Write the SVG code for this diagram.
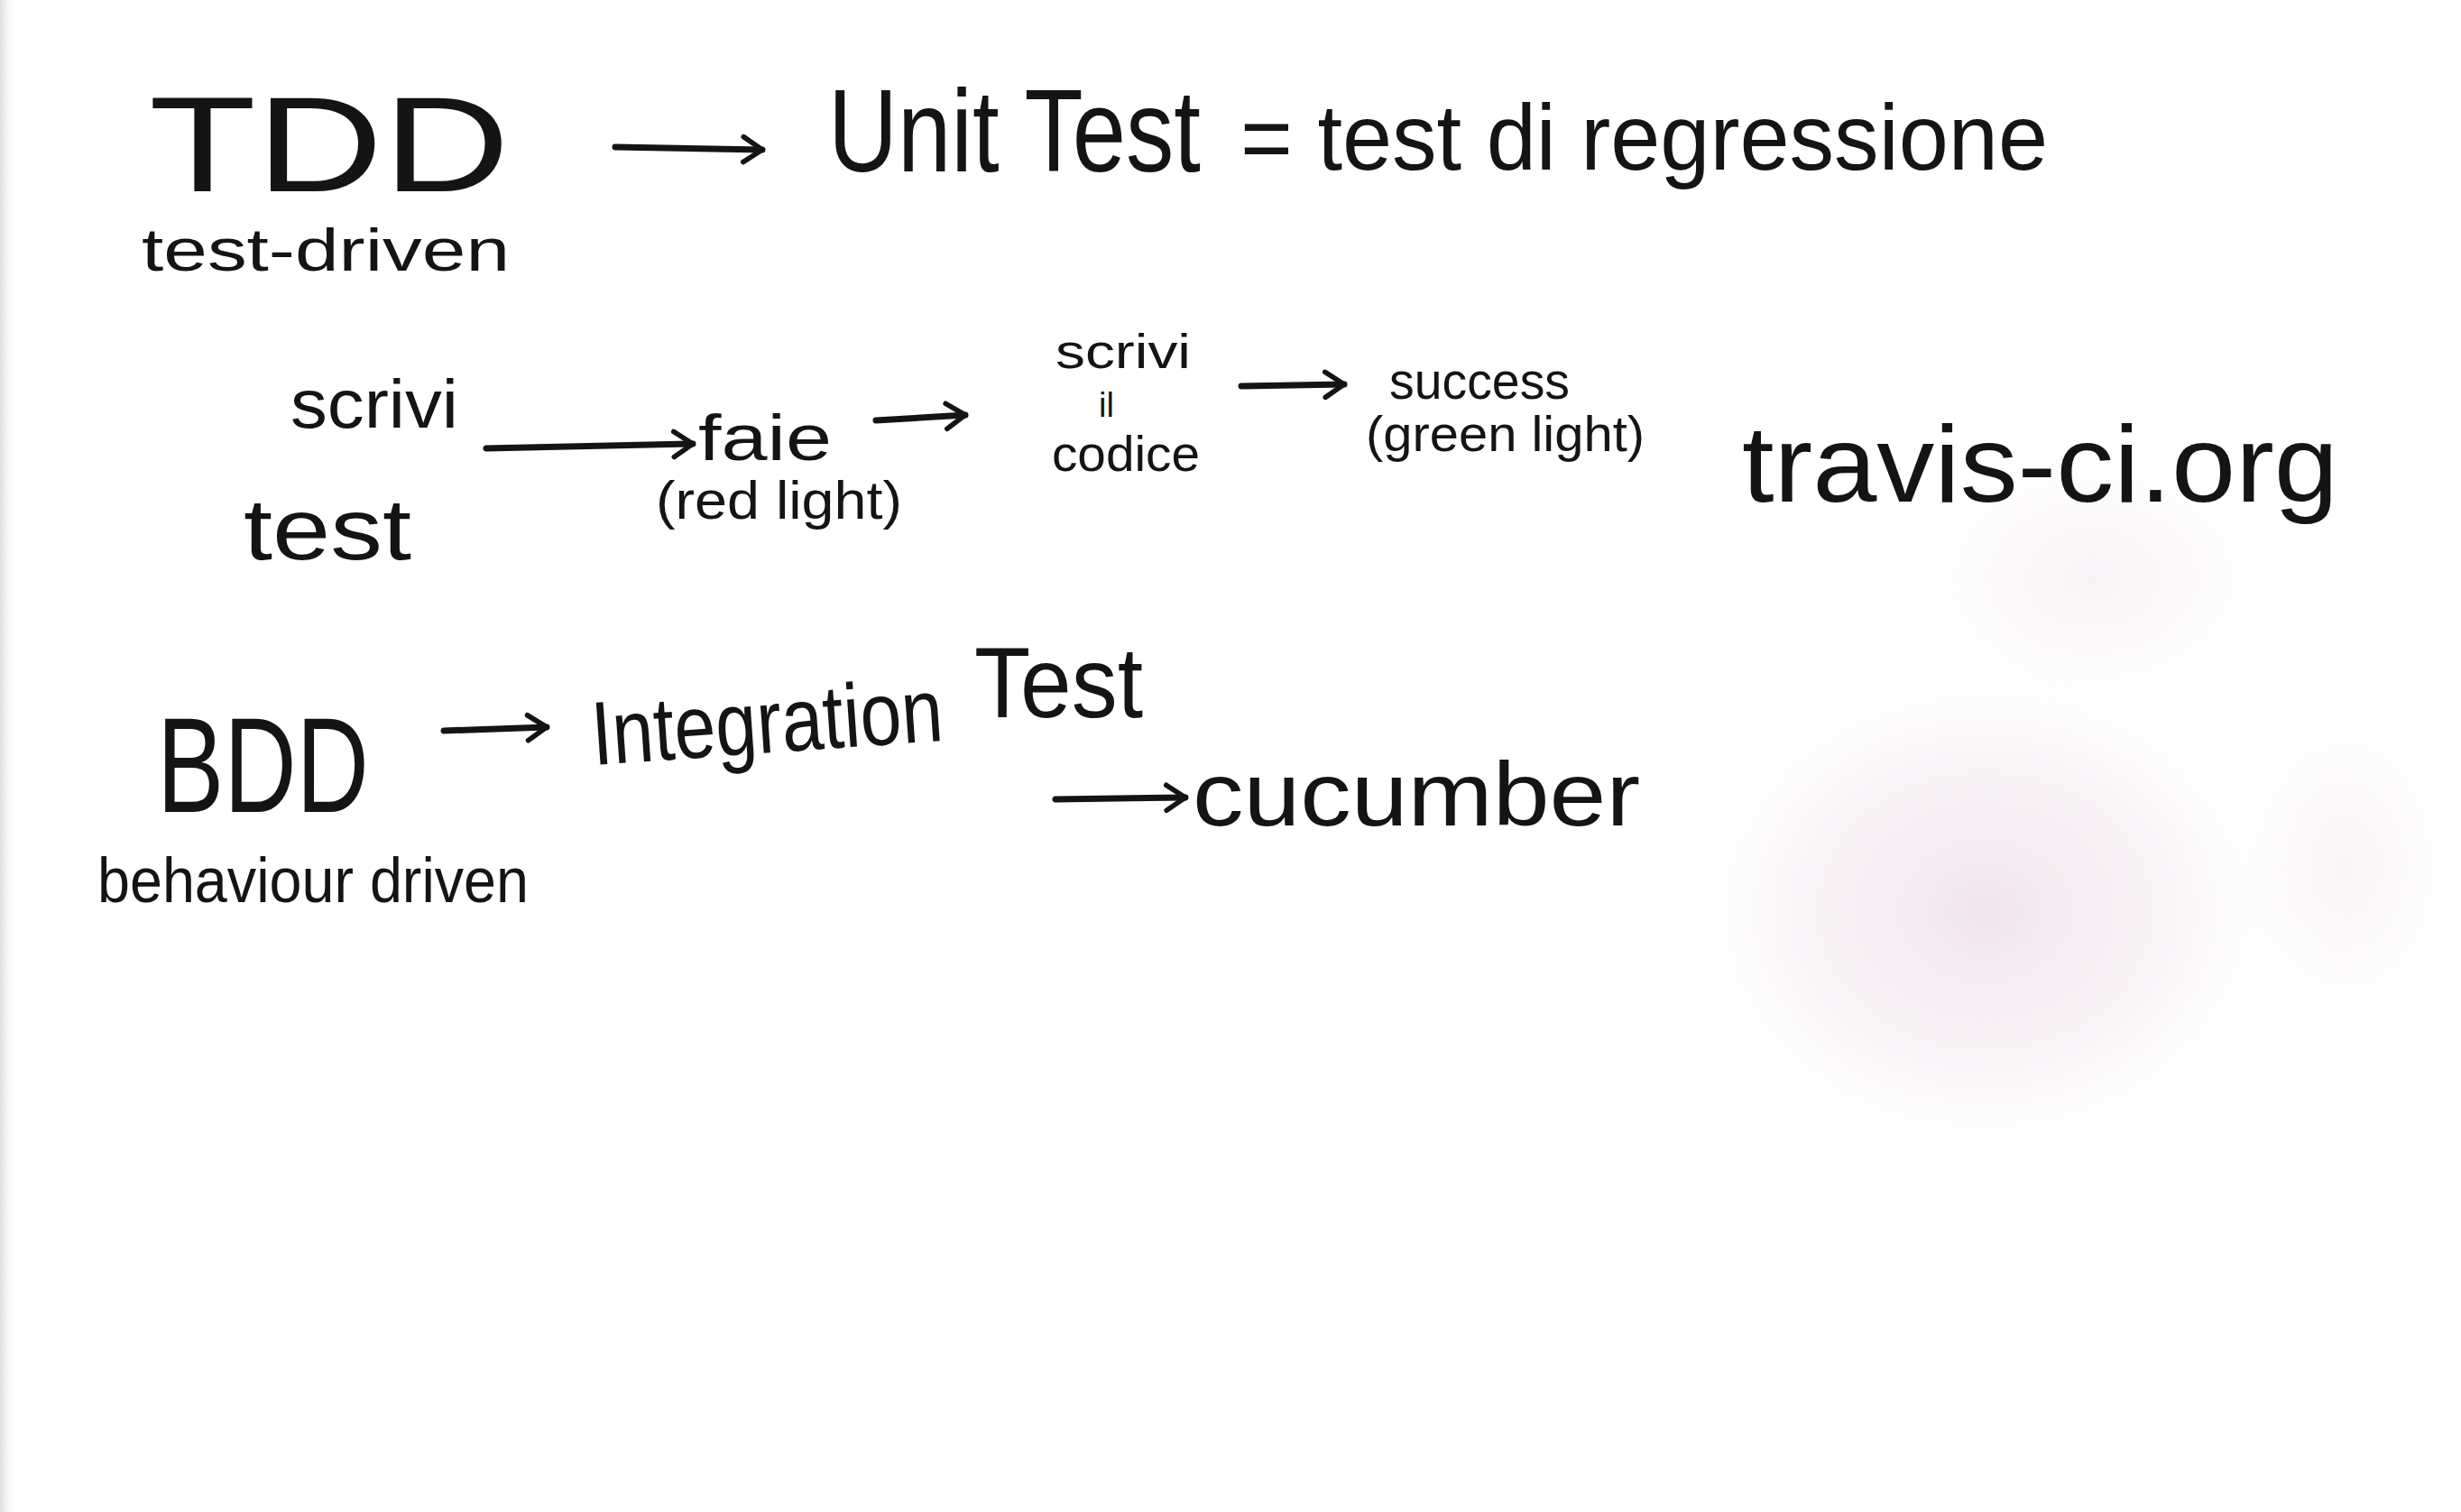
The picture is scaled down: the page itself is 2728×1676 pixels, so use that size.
<svg xmlns="http://www.w3.org/2000/svg" width="2728" height="1676" viewBox="0 0 2728 1676">
<defs>
<style>
.t{font-family:"Liberation Sans","DejaVu Sans",sans-serif;fill:#141414}
.c{stroke:#141414;stroke-width:7;fill:none;stroke-linecap:round;stroke-linejoin:round}
</style>
<marker id="ah" viewBox="0 0 10 10" refX="8" refY="5" markerWidth="5" markerHeight="5" markerUnits="strokeWidth" orient="auto">
<path d="M2,1 L8,5 L2,9" fill="none" stroke="#141414" stroke-width="1.6" stroke-linecap="round" stroke-linejoin="round"/>
</marker>
<radialGradient id="pink" cx="0.5" cy="0.5" r="0.5">
<stop offset="0" stop-color="#eddde7" stop-opacity="0.8"/>
<stop offset="0.6" stop-color="#f4e9f0" stop-opacity="0.45"/>
<stop offset="1" stop-color="#ffffff" stop-opacity="0"/>
</radialGradient>
<linearGradient id="edge" x1="0" y1="0" x2="1" y2="0">
<stop offset="0" stop-color="#dcdcdc"/>
<stop offset="1" stop-color="#ffffff" stop-opacity="0"/>
</linearGradient>
</defs>
<rect width="2728" height="1676" fill="#ffffff"/>
<rect width="18" height="1676" fill="url(#edge)"/>
<ellipse cx="2200" cy="1010" rx="360" ry="300" fill="url(#pink)"/>
<ellipse cx="2320" cy="640" rx="220" ry="160" fill="url(#pink)" opacity="0.45"/>
<ellipse cx="2600" cy="960" rx="140" ry="200" fill="url(#pink)" opacity="0.4"/>

<g id="tdd"><text class="t" x="165" y="212" font-size="150" textLength="400" lengthAdjust="spacingAndGlyphs">TDD</text></g>
<g id="tdd-sub"><text class="t" x="157" y="300" font-size="66" textLength="408" lengthAdjust="spacingAndGlyphs">test-driven</text></g>
<g id="unit-test"><text class="t" x="918" y="190" font-size="130" textLength="413" lengthAdjust="spacingAndGlyphs">Unit Test</text></g>
<g id="regressione"><text class="t" x="1375" y="188" font-size="104" textLength="895" lengthAdjust="spacingAndGlyphs">= test di regressione</text></g>

<g id="scrivi-test">
<text class="t" x="322" y="474" font-size="76" textLength="186" lengthAdjust="spacingAndGlyphs">scrivi</text>
<text class="t" x="270" y="620" font-size="96" textLength="186" lengthAdjust="spacingAndGlyphs">test</text>
</g>
<g id="fail">
<text class="t" x="774" y="510" font-size="72" textLength="148" lengthAdjust="spacingAndGlyphs">faie</text>
<text class="t" x="727" y="575" font-size="60" textLength="273" lengthAdjust="spacingAndGlyphs">(red light)</text>
</g>
<g id="scrivi-codice">
<text class="t" x="1170" y="408" font-size="54" textLength="150" lengthAdjust="spacingAndGlyphs">scrivi</text>
<text class="t" x="1218" y="462" font-size="38">il</text>
<text class="t" x="1166" y="522" font-size="56" textLength="164" lengthAdjust="spacingAndGlyphs">codice</text>
</g>
<g id="success">
<text class="t" x="1540" y="442" font-size="58" textLength="200" lengthAdjust="spacingAndGlyphs">success</text>
<text class="t" x="1514" y="500" font-size="56" textLength="309" lengthAdjust="spacingAndGlyphs">(green light)</text>
</g>
<g id="travis"><text class="t" x="1931" y="556" font-size="120" textLength="661" lengthAdjust="spacingAndGlyphs">travis-ci.org</text></g>

<g id="bdd"><text class="t" x="174" y="900" font-size="150" textLength="235" lengthAdjust="spacingAndGlyphs">BDD</text></g>
<g id="bdd-sub"><text class="t" x="108" y="1000" font-size="70" textLength="478" lengthAdjust="spacingAndGlyphs">behaviour driven</text></g>
<g id="integration">
<text class="t" x="658" y="848" font-size="100" textLength="390" lengthAdjust="spacingAndGlyphs" transform="rotate(-4 658 848)">Integration</text>
<text class="t" x="1080" y="795" font-size="112" textLength="187" lengthAdjust="spacingAndGlyphs">Test</text>
</g>
<g id="cucumber"><text class="t" x="1322" y="915" font-size="100" textLength="496" lengthAdjust="spacingAndGlyphs">cucumber</text></g>

<g id="connectors">
<path class="c" d="M682,163 L845,166" marker-end="url(#ah)"/>
<path class="c" d="M539,497 L768,492" marker-end="url(#ah)"/>
<path class="c" d="M971,466 L1070,460" marker-end="url(#ah)"/>
<path class="c" d="M1376,428 L1490,426" marker-end="url(#ah)"/>
<path class="c" d="M492,810 L606,806" marker-end="url(#ah)"/>
<path class="c" d="M1170,886 L1314,884" marker-end="url(#ah)"/>
</g>
</svg>
